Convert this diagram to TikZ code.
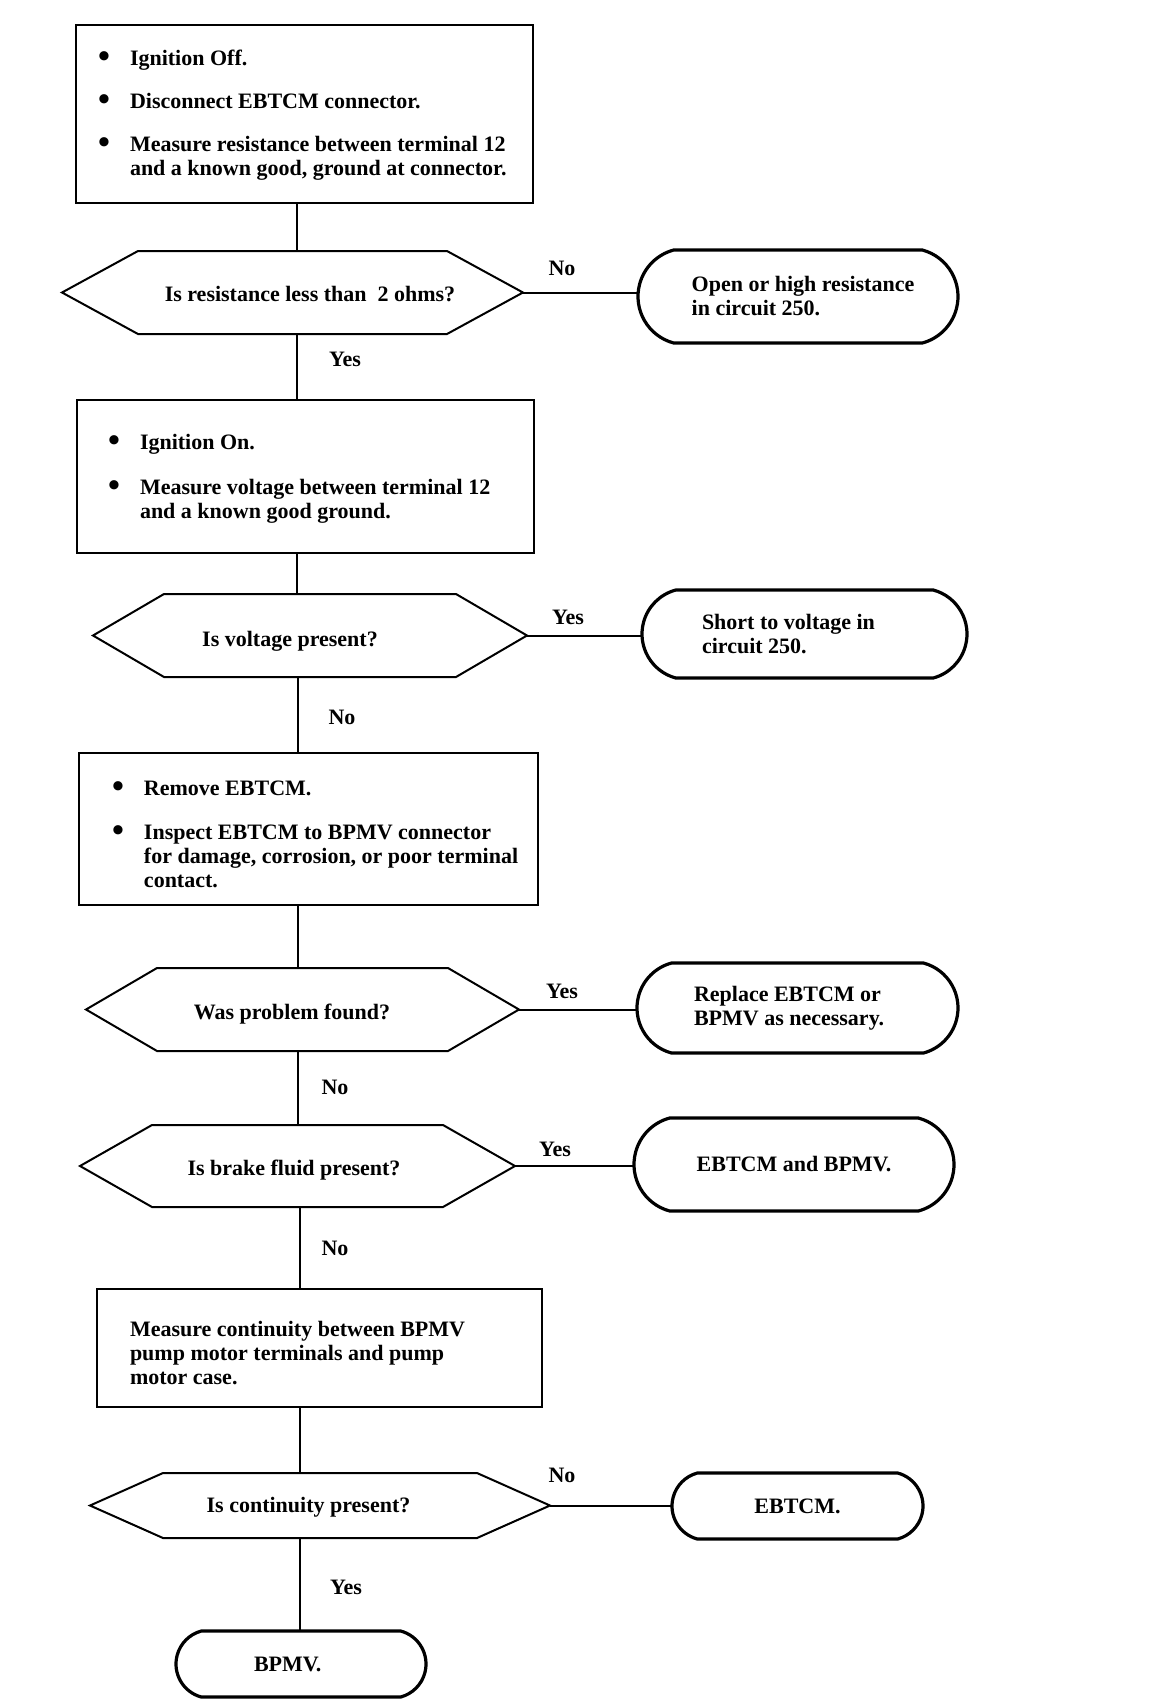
\documentclass[tikz,border=0pt]{standalone}
\usepackage{fontspec}
\setmainfont{Liberation Serif}
\usetikzlibrary{calc,shapes.misc}
\newcommand{\itembul}{\makebox[16pt][l]{\raisebox{-1.2pt}{\fontsize{17}{12}\selectfont\textbullet}}}
\newcommand{\itemhang}{\hspace*{16pt}}
\newcommand{\drawhex}[2]{\draw[shapeline] (#1.west) -- ($(#1.north west)+(#2,0)$) -- ($(#1.north east)+(-#2,0)$) -- (#1.east) -- ($(#1.south east)+(-#2,0)$) -- ($(#1.south west)+(#2,0)$) -- cycle;}
\begin{document}
\begin{tikzpicture}[x=0.5pt,y=-0.5pt,
  every node/.style={font=\fontsize{11}{12}\selectfont\bfseries, inner sep=0pt, outer sep=0pt},
  shapeline/.style={line width=1pt, line join=miter},
  boxframe/.style={draw, line width=1pt, rectangle},
  hexframe/.style={rectangle, draw=none},
  terminal/.style={draw, line width=1.6pt, rounded rectangle, rounded rectangle arc length=150, align=flush left},
  itemtext/.style={anchor=west, align=left},
  qtext/.style={anchor=center},
  lbl/.style={anchor=center},
  conn/.style={line width=1pt}]
\useasboundingbox (0,0) rectangle (1152,1704);
\fill[white] (0,0) rectangle (1152,1704);

% trunk x positions
\coordinate (tA) at (297,0);
\coordinate (tB) at (298,0);
\coordinate (tC) at (300,0);

% box 1
\node[boxframe, minimum width=228.5pt, minimum height=89pt] (b1) at (304.5,114) {};
\node[itemtext] (b1t) at ($(b1.west)+(22,1)$) {\itembul Ignition Off.\\[9.5pt]
\itembul Disconnect EBTCM connector.\\[9.5pt]
\itembul Measure resistance between terminal 12\\
\itemhang and a known good, ground at connector.};

% decision 1
\node[hexframe, minimum width=230.5pt, minimum height=41.5pt] (d1) at (292.5,292.5) {};
\drawhex{d1}{76}
\node[qtext] (d1t) at (310,294.5) {Is resistance less than~~2 ohms?};
\node[terminal, minimum width=160pt, minimum height=46.5pt] (o1) at (798,296.5) {\hspace*{5pt}Open or high resistance\\\hspace*{5pt}in circuit 250.};
\node[lbl] (l1n) at (562,268) {No};
\node[lbl] (l1y) at (345,359) {Yes};

% box 2
\node[boxframe, minimum width=228.5pt, minimum height=76.5pt] (b2) at (305.5,476.5) {};
\node[itemtext] (b2t) at ($(b2.west)+(31,2)$) {\itembul Ignition On.\\[10.5pt]
\itembul Measure voltage between terminal 12\\
\itemhang and a known good ground.};

% decision 2
\node[hexframe, minimum width=217pt, minimum height=41.5pt] (d2) at (310,635.5) {};
\drawhex{d2}{71}
\node[qtext] (d2t) at (290,641) {Is voltage present?};
\node[terminal, minimum width=162.5pt, minimum height=44pt, text width=102.5pt] (o2) at (804.5,634) {Short to voltage in\\circuit 250.};
\node[lbl] (l2y) at (568,617) {Yes};
\node[lbl] (l2n) at (342,717) {No};

% box 3
\node[boxframe, minimum width=229.5pt, minimum height=76pt] (b3) at (308.5,829) {};
\node[itemtext] (b3t) at ($(b3.west)+(33,5)$) {\itembul Remove EBTCM.\\[10pt]
\itembul Inspect EBTCM to BPMV connector\\
\itemhang for damage, corrosion, or poor terminal\\
\itemhang contact.};

% decision 3
\node[hexframe, minimum width=216.5pt, minimum height=41.5pt] (d3) at (302.5,1009.5) {};
\drawhex{d3}{71}
\node[qtext] (d3t) at (292,1014) {Was problem found?};
\node[terminal, minimum width=160.5pt, minimum height=45pt, text width=103.5pt] (o3) at (797.5,1008) {Replace EBTCM or\\BPMV as necessary.};
\node[lbl] (l3y) at (562,991) {Yes};
\node[lbl] (l3n) at (335,1087) {No};

% decision 4
\node[hexframe, minimum width=217.5pt, minimum height=41pt] (d4) at (297.5,1166) {};
\drawhex{d4}{72}
\node[qtext] (d4t) at (294,1170.5) {Is brake fluid present?};
\node[terminal, minimum width=160pt, minimum height=46.5pt] (o4) at (794,1164.5) {EBTCM and BPMV.};
\node[lbl] (l4y) at (555,1149) {Yes};
\node[lbl] (l4n) at (335,1248) {No};

% box 4
\node[boxframe, minimum width=222.5pt, minimum height=59pt] (b4) at (319.5,1348) {};
\node[itemtext] (b4t) at ($(b4.west)+(33,5)$) {Measure continuity between BPMV\\
pump motor terminals and pump\\
motor case.};

% decision 5
\node[hexframe, minimum width=230pt, minimum height=32.5pt] (d5) at (320,1505.5) {};
\drawhex{d5}{73}
\node[qtext] (d5t) at (308.5,1507.5) {Is continuity present?};
\node[terminal, minimum width=125.5pt, minimum height=33pt] (o5) at (797.5,1506) {EBTCM.};
\node[lbl] (l5n) at (562,1475) {No};
\node[lbl] (l5y) at (346,1587) {Yes};

% final terminal
\node[terminal, minimum width=125pt, minimum height=33pt, text width=47pt] (o6) at (301,1664) {BPMV.};

% vertical connectors
\draw[conn] (b1.south -| tA) -- (d1.north -| tA);
\draw[conn] (d1.south -| tA) -- (b2.north -| tA);
\draw[conn] (b2.south -| tA) -- (d2.north -| tA);
\draw[conn] (d2.south -| tB) -- (b3.north -| tB);
\draw[conn] (b3.south -| tB) -- (d3.north -| tB);
\draw[conn] (d3.south -| tB) -- (d4.north -| tB);
\draw[conn] (d4.south -| tC) -- (b4.north -| tC);
\draw[conn] (b4.south -| tC) -- (d5.north -| tC);
\draw[conn] (d5.south -| tC) -- (o6.north -| tC);

% horizontal connectors
\draw[conn] (d1.east) -- (d1.east -| o1.west);
\draw[conn] (d2.east) -- (d2.east -| o2.west);
\draw[conn] (d3.east) -- (d3.east -| o3.west);
\draw[conn] (d4.east) -- (d4.east -| o4.west);
\draw[conn] (d5.east) -- (d5.east -| o5.west);
\end{tikzpicture}
\end{document}
